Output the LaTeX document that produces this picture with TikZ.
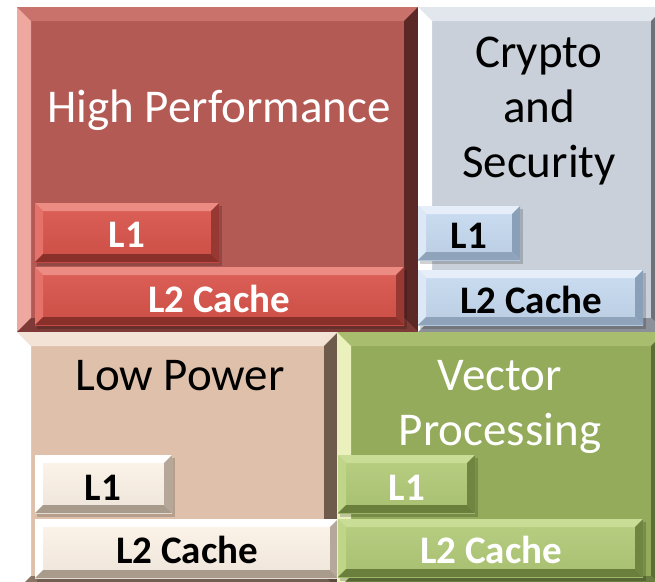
\documentclass[tikz,border=0pt]{standalone}
\usepackage{fontspec}
\setmainfont{Carlito}
\definecolor{hpface}{HTML}{B35A55}\definecolor{hptop}{HTML}{C9716B}\definecolor{hpleft}{HTML}{EFA8A0}\definecolor{hpright}{HTML}{5C2826}\definecolor{hpbot}{HTML}{7E3A36}
\definecolor{crface}{HTML}{C9D0DA}\definecolor{crtop}{HTML}{E2E7EE}\definecolor{crleft}{HTML}{FFFFFF}\definecolor{crright}{HTML}{6E7278}\definecolor{crbot}{HTML}{8C9098}
\definecolor{lpface}{HTML}{DFC1AB}\definecolor{lptop}{HTML}{F3E3D6}\definecolor{lpleft}{HTML}{FFFFFF}\definecolor{lpright}{HTML}{6E5B4C}\definecolor{lpbot}{HTML}{8A7564}
\definecolor{vpface}{HTML}{93AB5B}\definecolor{vptop}{HTML}{A8BE6E}\definecolor{vpleft}{HTML}{EAF1BC}\definecolor{vpright}{HTML}{5C6E35}\definecolor{vpbot}{HTML}{6A7D3E}
\definecolor{hiface}{HTML}{D9534A}\definecolor{hitop}{HTML}{EC8B82}\definecolor{hileft}{HTML}{E4726A}\definecolor{hiright}{HTML}{983832}\definecolor{hibot}{HTML}{8A302A}
\definecolor{ciface}{HTML}{C6DAF0}\definecolor{citop}{HTML}{E6EFF9}\definecolor{cileft}{HTML}{DCE8F5}\definecolor{ciright}{HTML}{8AA0B8}\definecolor{cibot}{HTML}{8FA4BB}
\definecolor{liface}{HTML}{FDF3E8}\definecolor{litop}{HTML}{FFFFFF}\definecolor{lileft}{HTML}{FFFFFF}\definecolor{liright}{HTML}{B5A89A}\definecolor{libot}{HTML}{A99B8C}
\definecolor{viface}{HTML}{B2CB78}\definecolor{vitop}{HTML}{C9DD96}\definecolor{vileft}{HTML}{BFD588}\definecolor{viright}{HTML}{6F8540}\definecolor{vibot}{HTML}{6A7F3C}
% #7 = face fill options
\newcommand\bevbox[7]{%
  \fill[#7] (#1,#2) rectangle (#3,#4);
  \fill[#6top] (#1,#2) -- (#3,#2) -- ({#3-#5},{#2+#5}) -- ({#1+#5},{#2+#5}) -- cycle;
  \fill[#6left] (#1,#2) -- ({#1+#5},{#2+#5}) -- ({#1+#5},{#4-#5}) -- (#1,#4) -- cycle;
  \fill[#6right] (#3,#2) -- ({#3-#5},{#2+#5}) -- ({#3-#5},{#4-#5}) -- (#3,#4) -- cycle;
  \fill[#6bot] (#1,#4) -- ({#1+#5},{#4-#5}) -- ({#3-#5},{#4-#5}) -- (#3,#4) -- cycle;
}
\newcommand\outerbox[5]{\bevbox{#1}{#2}{#3}{#4}{14}{#5}{#5face}}
\newcommand\innerbox[5]{%
  \fill[black,opacity=0.18] ({#1+2},{#2+3}) rectangle ({#3+3},{#4+4});
  \bevbox{#1}{#2}{#3}{#4}{8}{#5}{top color=#5face!92!white, bottom color=#5face!94!black}%
}
\tikzset{
  title/.style={inner sep=0pt, anchor=base, font=\fontsize{47}{56}\selectfont},
  cache/.style={inner sep=0pt, anchor=base, font=\fontsize{39}{46}\selectfont\bfseries},
}
\begin{document}
\begin{tikzpicture}[x=1pt,y=-1pt]
\useasboundingbox (0,0) rectangle (655,581);
\fill[white] (0,0) rectangle (655,581);
% outer blocks
\outerbox{17}{7}{418}{332}{hp}
\outerbox{418}{7}{665}{332}{cr}
\outerbox{17}{332}{338}{590}{lp}
\innerbox{35}{455}{172}{513}{li}
\innerbox{35}{519}{338}{578}{li}
\outerbox{337}{332}{665}{590}{vp}
% inner blocks
\innerbox{35}{203}{219}{262}{hi}
\innerbox{35}{267}{404}{325}{hi}
\innerbox{418}{206}{520}{260}{ci}
\innerbox{418}{270}{643}{325}{ci}
\innerbox{338}{455}{475}{513}{vi}
\innerbox{338}{519}{643}{577}{vi}
% titles
\node[title,white] (hpt) at (219,122) {High Performance};
\node[title] (cr1) at (539,67) {Crypto};
\node[title] (cr2) at (539,122) {and};
\node[title] (cr3) at (539,177) {Security};
\node[title] (lpt) at (180,390) {Low Power};
\node[title,white] (vp1) at (500,390) {Vector};
\node[title,white] (vp2) at (500,445) {Processing};
% cache labels
\node[cache,white] (hpl1) at (127,247) {L1};
\node[cache,white] (hpl2) at (219,312) {L2 Cache};
\node[cache] (crl1) at (469,248) {L1};
\node[cache] (crl2) at (531,313) {L2 Cache};
\node[cache] (lpl1) at (103,500) {L1};
\node[cache] (lpl2) at (187,563) {L2 Cache};
\node[cache,white] (vpl1) at (407,500) {L1};
\node[cache,white] (vpl2) at (491,563) {L2 Cache};
\end{tikzpicture}
\end{document}
